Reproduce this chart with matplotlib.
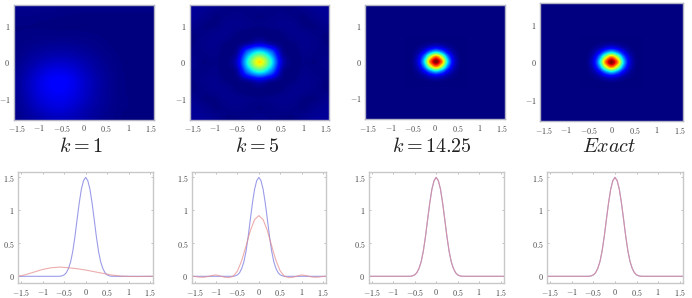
import numpy as np
import matplotlib
matplotlib.use('Agg')
import matplotlib.pyplot as plt

plt.rcParams['mathtext.fontset'] = 'cm'
plt.rcParams['font.family'] = 'serif'

W, H = 692, 298

# top row, values on the same scale as the lower curves (grid step 0.25, y from -1.5 up)
k1_grid = [
    [.020, .040, .060, .080, .085, .075, .055, .035, .018, .008, .000, .000, .000],
    [.025, .055, .090, .115, .120, .100, .070, .045, .025, .010, .005, .000, .000],
    [.030, .070, .115, .140, .145, .125, .090, .055, .030, .012, .005, .000, .000],
    [.035, .080, .130, .160, .165, .140, .100, .060, .032, .012, .004, .000, .000],
    [.035, .080, .130, .165, .172, .145, .100, .062, .032, .012, .004, .000, .000],
    [.028, .065, .105, .135, .140, .120, .085, .052, .028, .010, .003, .000, .000],
    [.020, .045, .070, .090, .095, .085, .062, .040, .020, .008, .002, .000, .000],
    [.012, .028, .042, .052, .056, .050, .038, .025, .012, .005, .001, .000, .000],
    [.008, .015, .022, .026, .028, .025, .020, .013, .007, .003, .000, .000, .000],
    [.006, .008, .010, .010, .010, .010, .008, .006, .004, .002, .000, .000, .000],
    [.006, .006, .005, .004, .003, .003, .003, .002, .002, .001, .000, .000, .000],
    [.012, .012, .010, .008, .006, .005, .004, .004, .004, .004, .004, .004, .004],
    [.020, .020, .018, .015, .012, .010, .010, .010, .010, .010, .010, .010, .010],
]

# one quadrant each, x and y going out from 0
k5_quad = [
    [1.00, .600, .110, .000, .010, .005, .015],
    [.600, .400, .050, .000, .015, .010, .010],
    [.110, .050, .005, .005, .020, .015, .005],
    [.000, .000, .005, .020, .020, .010, .005],
    [.010, .015, .020, .020, .005, .005, .020],
    [.005, .010, .015, .010, .005, .020, .030],
    [.015, .010, .005, .005, .020, .030, .030],
]
# step 0.125 here, the peak is too narrow for 0.25
exact_quad = [
    [1.50, 1.20, .560, .170, .030, .000],
    [1.20, .900, .420, .130, .020, .000],
    [.560, .420, .200, .060, .010, .000],
    [.170, .130, .060, .020, .003, .000],
    [.030, .020, .010, .003, .000, .000],
    [.000, .000, .000, .000, .000, .000],
]

# lower row
exact_x = [0, .05, .1, .15, .2, .25, .3, .35, .4, .45, .5, .55, .6, .65, 1.57]
exact_y = [1.5, 1.45, 1.32, 1.11, .86, .6, .38, .22, .12, .055, .022, .007, .001, 0, 0]

k1_x = [-1.57, -1.4, -1.2, -1, -.8, -.6, -.4, -.2, 0, .2, .4, .6, .8, 1, 1.2, 1.57]
k1_y = [0, .025, .065, .105, .13, .14, .13, .115, .095, .07, .045, .02, .005, -.002, -.003, 0]

k5_x = [0, .1, .2, .3, .4, .5, .6, .7, .8, .9, 1, 1.1, 1.2, 1.3, 1.4, 1.5, 1.57]
k5_y = [.92, .86, .69, .46, .24, .08, 0, -.02, -.015, .005, .02, .012, -.005, -.015, -.012, -.002, 0]

titles = ['$k=1$', '$k=5$', '$k=14.25$', '$Exact$']
title_x = [81, 257, 432, 609]

# pixel boxes: left, right, top, bottom
top_boxes = [(13.7, 154, 4.7, 120), (189.7, 328.7, 4.7, 120), (365.3, 505.3, 4.7, 119.3), (540.3, 683, 3.3, 121.3)]
low_boxes = [(18.3, 153, 171.7, 283.3), (191.7, 326, 171.7, 283.3), (368.7, 503.7, 171.7, 283.3), (547.3, 682.7, 171.7, 283.3)]

x_ticks = [-1.5, -1, -0.5, 0, 0.5, 1, 1.5]
x_labels = ['$-1.5$', '$-1$', '$-0.5$', '$0$', '$0.5$', '$1$', '$1.5$']
LIM = 1.57


def mirror(quad):
    q = np.array(quad)
    row = np.hstack([q[:, :0:-1], q])
    return np.vstack([row[:0:-1], row])


def add_ax(fig, box):
    l, r, t, b = box
    return fig.add_axes([l / W, 1 - b / H, (r - l) / W, (b - t) / H])


def style(ax, color):
    for s in ax.spines.values():
        s.set_color(color)
        s.set_linewidth(1.0)
    ax.set_xticks(x_ticks)
    ax.set_xticklabels(x_labels)
    ax.tick_params(labelsize=5.8, length=1.5, width=0.4, color='#909090', labelcolor='#444444',
                   direction='in', top=True, right=True, pad=2.5)


fig = plt.figure(figsize=(W / 100, H / 100), dpi=100)

fields = [np.array(k1_grid), mirror(k5_quad), mirror(exact_quad), mirror(exact_quad)]
half = [1.625, 1.625, 0.6875, 0.6875]
navy = plt.get_cmap('jet')(0.0)

for i in range(4):
    ax = add_ax(fig, top_boxes[i])
    ax.set_facecolor(navy)
    h = half[i]
    # catrom goes through the grid values, bicubic flattens the peak
    ax.imshow(fields[i], cmap='jet', vmin=0, vmax=1.5, origin='lower', aspect='auto',
              interpolation='catrom', extent=(-h, h, -h, h))
    ax.set_xlim(-LIM, LIM)
    ax.set_ylim(-LIM, LIM)
    style(ax, '#b4b4c4')
    ax.set_yticks([-1, 0, 1])
    ax.set_yticklabels(['$-1$', '$0$', '$1$'])
    ax.tick_params(length=0)
    fig.text(title_x[i] / W, 1 - 147 / H, titles[i], fontsize=14.5, ha='center', va='center', color='#222222')

# the blue curve is the same in every panel
ex = np.array(exact_x)
ey = np.array(exact_y)
blue_x = np.concatenate([-ex[:0:-1], ex])
blue_y = np.concatenate([ey[:0:-1], ey])
k5x = np.array(k5_x)
k5y = np.array(k5_y)
reds = [
    (k1_x, k1_y),
    (np.concatenate([-k5x[:0:-1], k5x]), np.concatenate([k5y[:0:-1], k5y])),
    (blue_x, blue_y),
    (blue_x, blue_y),
]

for i in range(4):
    ax = add_ax(fig, low_boxes[i])
    ax.plot(blue_x, blue_y, color='#9c9ce8', lw=0.8)
    ax.plot(reds[i][0], reds[i][1], color='#e58a8a', lw=0.8, alpha=0.7)
    ax.set_xlim(-LIM, LIM)
    ax.set_ylim(-0.106, 1.586)
    style(ax, '#c8c8c8')
    ax.set_yticks([0, 0.5, 1, 1.5])
    ax.set_yticklabels(['$0$', '$0.5$', '$1$', '$1.5$'])

fig.savefig('out.png', dpi=100)
